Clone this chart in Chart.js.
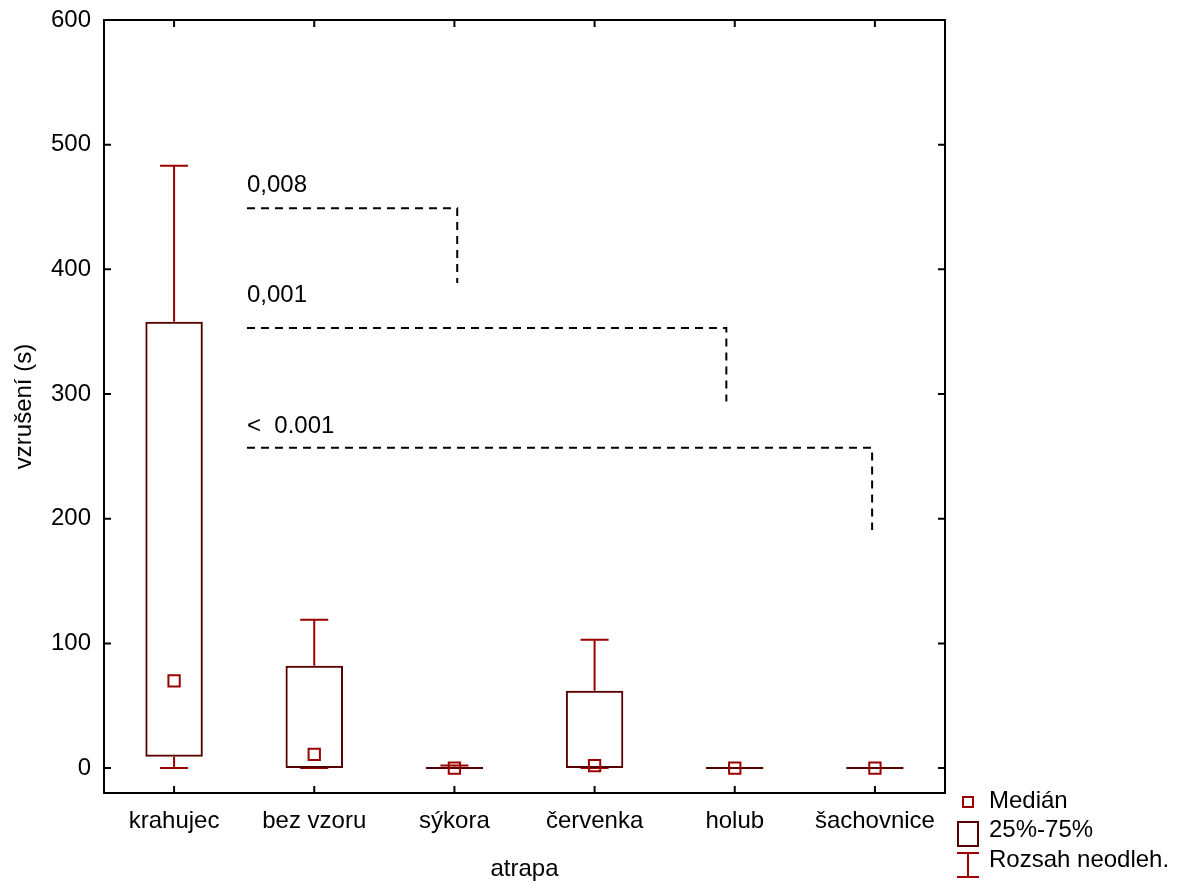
<!DOCTYPE html>
<html>
<head>
<meta charset="utf-8">
<script src="https://cdn.jsdelivr.net/npm/chart.js@4/dist/chart.umd.min.js"></script>
<style>
  body { margin: 0; background: #fff; }
</style>
</head>
<body>
<canvas id="chart" width="1181" height="885"></canvas>
<script>
// data
const categories = ['krahujec', 'bez vzoru', 'sýkora', 'červenka', 'holub', 'šachovnice'];
const medians = [70, 11, 0, 2, 0, 0];
const q1 = [9, 0, 0, 0, 0, 0];
const q3 = [358, 82, 1, 62, 0, 0];
const whiskerLow = [0, 0, 0, 0, 0, 0];
const whiskerHigh = [483, 119, 2, 103, 0, 0];
const yTicks = [0, 100, 200, 300, 400, 500, 600];

// significance brackets (value units, category index units)
const bracketLabels = ['0,008', '0,001', '<  0.001'];
const bracketLabelY = [462, 374, 269];
const bracketLevel = [449, 353, 257];
const bracketStart = 0.52;
const bracketEnd = [2.02, 3.94, 4.98];
const bracketDrop = [389, 294, 191];

const FONT = '"Liberation Sans", Arial, sans-serif';
const FSIZE = 24;
const boxColor = '#560000';
const redColor = '#9a0000';

const whiskers = {
  id: 'whiskers',
  beforeDatasetsDraw(chart) {
    const ctx = chart.ctx, x = chart.scales.x, y = chart.scales.y;
    ctx.save();
    ctx.strokeStyle = redColor;
    ctx.lineWidth = 2;
    categories.forEach((c, i) => {
      const cx = x.getPixelForValue(i);
      const l = x.getPixelForValue(i - 0.1), r = x.getPixelForValue(i + 0.1);
      const hi = y.getPixelForValue(whiskerHigh[i]), lo = y.getPixelForValue(whiskerLow[i]);
      ctx.beginPath();
      ctx.moveTo(cx, y.getPixelForValue(q3[i])); ctx.lineTo(cx, hi);
      ctx.moveTo(l, hi); ctx.lineTo(r, hi);
      ctx.moveTo(cx, y.getPixelForValue(q1[i])); ctx.lineTo(cx, lo);
      ctx.moveTo(l, lo); ctx.lineTo(r, lo);
      ctx.stroke();
    });
    ctx.restore();
  }
};

const extras = {
  id: 'extras',
  afterDraw(chart) {
    const ctx = chart.ctx, x = chart.scales.x, y = chart.scales.y;
    const a = chart.chartArea;
    ctx.save();
    // frame
    ctx.strokeStyle = '#000';
    ctx.lineWidth = 2;
    ctx.strokeRect(a.left, a.top, a.right - a.left, a.bottom - a.top);
    // inward ticks
    ctx.beginPath();
    yTicks.forEach(v => {
      const py = y.getPixelForValue(v);
      ctx.moveTo(a.left, py); ctx.lineTo(a.left + 7, py);
      ctx.moveTo(a.right, py); ctx.lineTo(a.right - 7, py);
    });
    categories.forEach((c, i) => {
      const px = x.getPixelForValue(i);
      ctx.moveTo(px, a.bottom); ctx.lineTo(px, a.bottom - 7);
      ctx.moveTo(px, a.top); ctx.lineTo(px, a.top + 7);
    });
    ctx.stroke();

    // brackets
    ctx.font = FSIZE + 'px ' + FONT;
    ctx.fillStyle = '#000';
    ctx.textAlign = 'left';
    ctx.textBaseline = 'alphabetic';
    const sx = x.getPixelForValue(bracketStart);
    bracketLabels.forEach((t, i) => {
      ctx.fillText(t, sx, y.getPixelForValue(bracketLabelY[i]));
      const ly = y.getPixelForValue(bracketLevel[i]);
      const ex = x.getPixelForValue(bracketEnd[i]);
      ctx.setLineDash([8, 6]);
      ctx.beginPath();
      ctx.moveTo(sx, ly); ctx.lineTo(ex, ly);
      ctx.lineTo(ex, y.getPixelForValue(bracketDrop[i]));
      ctx.stroke();
    });
    ctx.setLineDash([]);

    // legend
    ctx.textBaseline = 'middle';
    ctx.strokeStyle = redColor;
    ctx.strokeRect(963, 797, 10, 10);
    ctx.fillText('Medián', 989, 801);
    ctx.strokeStyle = boxColor;
    ctx.strokeRect(958, 822, 20, 24);
    ctx.fillText('25%-75%', 989, 830);
    ctx.strokeStyle = redColor;
    ctx.beginPath();
    ctx.moveTo(968, 853); ctx.lineTo(968, 877);
    ctx.moveTo(957, 853); ctx.lineTo(979, 853);
    ctx.moveTo(957, 877); ctx.lineTo(979, 877);
    ctx.stroke();
    ctx.fillText('Rozsah neodleh.', 989, 860);
    ctx.restore();
  }
};

new Chart(document.getElementById('chart'), {
  data: {
    labels: categories,
    datasets: [
      {
        type: 'line',
        label: 'Medián',
        data: medians,
        showLine: false,
        pointStyle: 'rect',
        pointRadius: 8,
        pointBorderWidth: 2,
        pointBorderColor: redColor,
        pointBackgroundColor: 'rgba(0,0,0,0)',
        order: 0
      },
      {
        type: 'bar',
        label: '25%-75%',
        data: q1.map((v, i) => [v, q3[i]]),
        backgroundColor: 'rgba(0,0,0,0)',
        borderColor: boxColor,
        borderWidth: 2,
        borderSkipped: false,
        barPercentage: 0.41,
        categoryPercentage: 1,
        minBarLength: 2,
        order: 1
      }
    ]
  },
  options: {
    responsive: false,
    animation: false,
    layout: { padding: { top: 20, right: 236, left: 0, bottom: 0 } },
    plugins: { legend: { display: false }, tooltip: { enabled: false } },
    scales: {
      x: {
        type: 'category',
        offset: true,
        grid: { display: false, drawTicks: false },
        border: { display: false },
        ticks: { color: '#000', padding: 14, font: { family: FONT, size: FSIZE } },
        title: { display: true, text: 'atrapa', color: '#000', padding: { top: 0, bottom: 1 }, font: { family: FONT, size: FSIZE } },
        afterFit(s) { s.height = 92; s.paddingLeft = 0; s.paddingRight = 0; }
      },
      y: {
        min: -20,
        max: 600,
        grid: { display: false, drawTicks: false },
        border: { display: false },
        afterBuildTicks(s) { s.ticks = yTicks.map(v => ({ value: v })); },
        ticks: { color: '#000', padding: 13, font: { family: FONT, size: FSIZE } },
        title: { display: true, text: 'vzrušení (s)', color: '#000', padding: { top: 10, bottom: 0 }, font: { family: FONT, size: FSIZE } },
        afterFit(s) { s.width = 104; s.paddingTop = 0; s.paddingBottom = 0; }
      }
    }
  },
  plugins: [whiskers, extras]
});
</script>
</body>
</html>
